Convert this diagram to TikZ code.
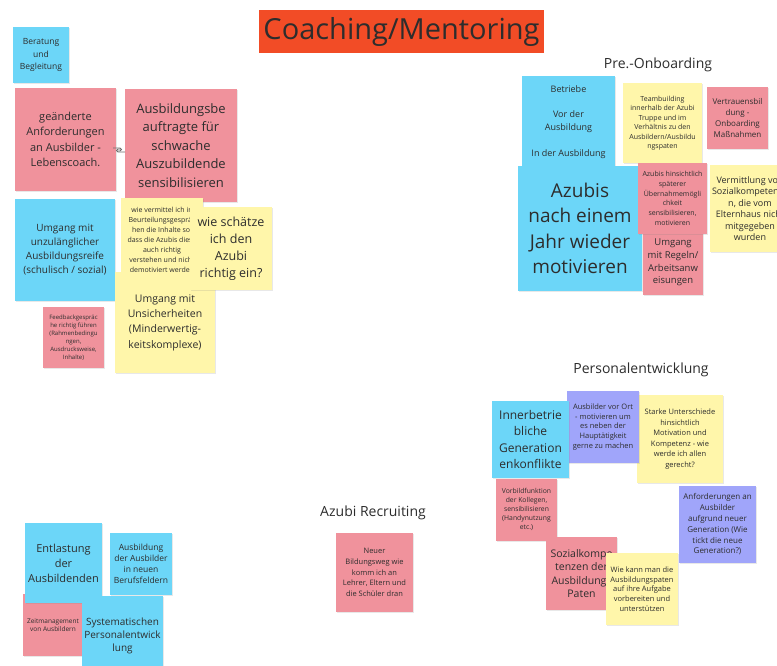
\documentclass[tikz,border=0pt]{standalone}
\usepackage{fontspec}
\setmainfont{Open Sans}
\usetikzlibrary{shadows}
\definecolor{noteblue}{RGB}{108,214,248}
\definecolor{notepink}{RGB}{240,146,156}
\definecolor{noteyellow}{RGB}{255,246,170}
\definecolor{notepurple}{RGB}{160,165,250}
\definecolor{titlered}{RGB}{242,76,38}
\definecolor{ink}{RGB}{45,45,45}
\newcommand{\fsz}[2]{\fontsize{#1}{#2}\selectfont}
\begin{document}
\begin{tikzpicture}[x=1pt, y=-1pt,
        note/.style={inner sep=0pt, align=center, text=ink,
                drop shadow={opacity=0.18, shadow xshift=1pt, shadow yshift=-1pt}},
        bluenote/.style={note, fill=noteblue},
        pinknote/.style={note, fill=notepink},
        yellownote/.style={note, fill=noteyellow},
        purplenote/.style={note, fill=notepurple},
        heading/.style={text=ink, font=\fsz{14}{17}}]
        \useasboundingbox[fill=white] (0,0) rectangle (777,665);
        \node[fill=titlered, minimum width=285, minimum height=43, text=ink, font=\fsz{29}{34}] (title) at (401.5,31.5) {Coaching/Mentoring};
        \node[heading] (preon) at (658,65) {Pre.-Onboarding};
        \node[heading] (personal) at (641,370) {Personalentwicklung};
        \node[heading] (recruit) at (373,513) {Azubi Recruiting};
        \node[bluenote, minimum width=56, minimum height=56, font=\fsz{8.5}{12.5}] (beratung) at (41,55) {Beratung\\und\\Begleitung};
        \node[pinknote, minimum width=101, minimum height=103, font=\fsz{11}{15.5}] (anforderungen) at (65.5,139.5) {geänderte\\Anforderungen\\an Ausbilder -\\Lebenscoach.};
        \node[pinknote, minimum width=112, minimum height=113, font=\fsz{13}{18.5}] (beauftragte) at (181,145.5) {Ausbildungsbe\\auftragte für\\schwache\\Auszubildende\\sensibilisieren};
        \draw[ink!70, line width=0.8pt] (113,148) -- (120,148) arc (-90:90:1.5) -- (117.5,151);
        \draw[ink!70, line width=0.8pt] (125,152) -- (118,152) arc (90:270:1.5) -- (120.5,149);
        \node[bluenote, minimum width=100, minimum height=102, font=\fsz{10}{14}] (reife) at (65,250) {Umgang mit\\unzulänglicher\\Ausbildungsreife\\(schulisch / sozial)};
        \node[yellownote, minimum width=82, minimum height=84, font=\fsz{7}{10}] (vermittel) at (162,240) {wie vermittel ich in\\Beurteilungsgespräc\\hen die Inhalte so,\\dass die Azubis diese\\auch richtig\\verstehen und nicht\\demotiviert werden};
        \node[yellownote, minimum width=100, minimum height=101, font=\fsz{10.5}{15.3}] (unsicher) at (165,322.5) {Umgang mit\\Unsicherheiten\\(Minderwertig-\\keitskomplexe)};
        \node[yellownote, minimum width=82, minimum height=83, font=\fsz{12.5}{17}] (schaetze) at (231,248.5) {wie schätze\\ich den\\Azubi\\richtig ein?};
        \node[pinknote, minimum width=61, minimum height=61, font=\fsz{6}{8.1}] (feedback) at (73.5,337.5) {Feedbackgespräc\\he richtig führen\\(Rahmenbedingu\\ngen,\\Ausdrucksweise,\\Inhalte)};
        \node[bluenote, minimum width=93, minimum height=92, font=\fsz{9}{12.7}] (betriebe) at (568.5,122) {Betriebe\\[12.7pt]Vor der\\Ausbildung\\[12.7pt]In der Ausbildung};
        \node[bluenote, minimum width=124, minimum height=125, font=\fsz{19}{25.5}] (azubis) at (580,228.5) {Azubis\\nach einem\\Jahr wieder\\motivieren};
        \node[yellownote, minimum width=79, minimum height=80, font=\fsz{7}{9.5}] (teambuilding) at (662.5,123) {Teambuilding\\innerhalb der Azubi\\Truppe und im\\Verhältnis zu den\\Ausbildern/Ausbildu\\ngspaten};
        \node[pinknote, minimum width=61, minimum height=62, font=\fsz{8}{10.8}] (vertrauen) at (737.5,118) {Vertrauensbil\\dung -\\Onboarding\\Maßnahmen};
        \node[pinknote, minimum width=60, minimum height=65, font=\fsz{9.5}{12.8}] (regeln) at (673,262.5) {Umgang\\mit Regeln/\\Arbeitsanw\\eisungen};
        \node[pinknote, minimum width=69, minimum height=71, font=\fsz{7}{9.7}] (uebernahme) at (672.5,198.5) {Azubis hinsichtlich\\späterer\\Übernahmemögli\\chkeit\\sensibilisieren,\\motivieren};
        \node[yellownote, minimum width=80, minimum height=87, font=\fsz{9}{11.5}] (sozialkomp) at (750,208.5) {Vermittlung von\\Sozialkompetenze\\n, die vom\\Elternhaus nicht\\mitgegeben\\wurden};
        \node[yellownote, minimum width=86, minimum height=88, font=\fsz{7.5}{10.5}] (starke) at (680,439) {Starke Unterschiede\\hinsichtlich\\Motivation und\\Kompetenz - wie\\werde ich allen\\gerecht?};
        \node[purplenote, minimum width=72, minimum height=72, font=\fsz{7.5}{9.7}] (vorort) at (603,427) {Ausbilder vor Ort\\- motivieren um\\es neben der\\Hauptätigkeit\\gerne zu machen};
        \node[bluenote, minimum width=77, minimum height=77, font=\fsz{12}{16.4}] (generation) at (530.5,439.5) {Innerbetrie\\bliche\\Generation\\enkonflikte};
        \node[pinknote, minimum width=61, minimum height=62, font=\fsz{6.8}{9.2}] (vorbild) at (526.5,509.5) {Vorbildfunktion\\der Kollegen,\\sensibilisieren\\(Handynutzung\\etc.)};
        \node[purplenote, minimum width=77, minimum height=77, font=\fsz{8}{10.8}] (anfgen) at (717.5,524.5) {Anforderungen an\\Ausbilder\\aufgrund neuer\\Generation (Wie\\tickt die neue\\Generation?)};
        \node[pinknote, minimum width=71, minimum height=73, font=\fsz{10.5}{13.5}] (paten) at (581.5,573.5) {Sozialkompe\\tenzen der\\Ausbildungs\\Paten};
        \node[yellownote, minimum width=72, minimum height=72, font=\fsz{7.5}{9.75}] (wiekann) at (642,589) {Wie kann man die\\Ausbildungspaten\\auf ihre Aufgabe\\vorbereiten und\\unterstützen};
        \node[pinknote, minimum width=77, minimum height=79, font=\fsz{7.5}{10.7}] (bildungsweg) at (374.5,572.5) {Neuer\\Bildungsweg wie\\komm ich an\\Lehrer, Eltern und\\die Schüler dran};
        \node[pinknote, minimum width=60, minimum height=62, font=\fsz{6.5}{8.3}] (zeit) at (53,625) {Zeitmanagement\\von Ausbildern};
        \node[bluenote, minimum width=77, minimum height=80, font=\fsz{11}{15}] (entlastung) at (63.5,563) {Entlastung\\der\\Ausbildenden};
        \node[bluenote, minimum width=62, minimum height=62, font=\fsz{8.5}{11.1}] (ausbder) at (141,564) {Ausbildung\\der Ausbilder\\in neuen\\Berufsfeldern};
        \node[bluenote, minimum width=81, minimum height=80, font=\fsz{10}{12.8}] (systematisch) at (122.5,636) {Systematischen\\Personalentwick\\lung};
\end{tikzpicture}
\end{document}
